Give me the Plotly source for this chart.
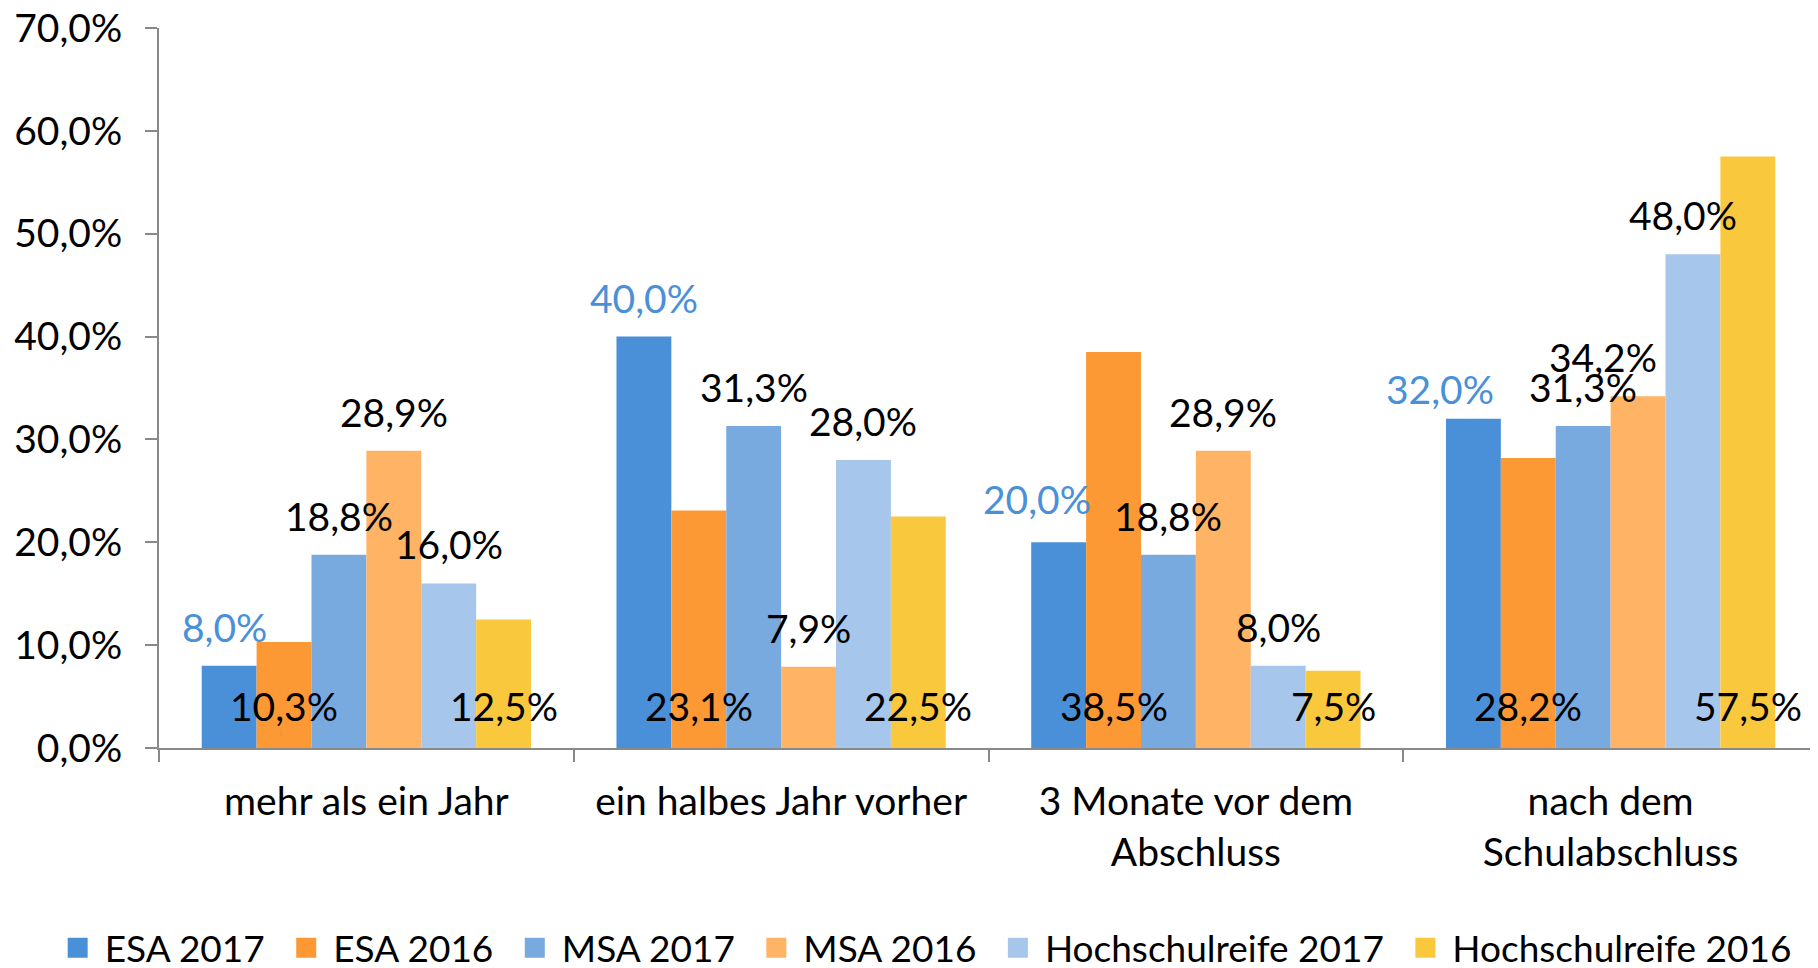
import plotly.graph_objects as go

# ---------------- data ----------------
categories = [
    "mehr als ein Jahr",
    "ein halbes Jahr vorher",
    "3 Monate vor dem<br>Abschluss",
    "nach dem<br>Schulabschluss",
]
series_names = ["ESA 2017", "ESA 2016", "MSA 2017", "MSA 2016",
                "Hochschulreife 2017", "Hochschulreife 2016"]
esa_2017 = [8.0, 40.0, 20.0, 32.0]
esa_2016 = [10.3, 23.1, 38.5, 28.2]
msa_2017 = [18.8, 31.3, 18.8, 31.3]
msa_2016 = [28.9, 7.9, 28.9, 34.2]
hsr_2017 = [16.0, 28.0, 8.0, 48.0]
hsr_2016 = [12.5, 22.5, 7.5, 57.5]
y_tick_values = [0, 10, 20, 30, 40, 50, 60, 70]

series_values = [esa_2017, esa_2016, msa_2017, msa_2016, hsr_2017, hsr_2016]

# ---------------- style ----------------
FONT = "Lato"
FS = 39
LEGEND_FS = 37
bar_colors = ["#4A90D9", "#FD9935", "#78AAE0", "#FEB365", "#A6C6EC", "#FAC83C"]
label_colors = ["#4A90D9", "#000000", "#000000", "#000000", "#000000", "#000000"]
label_place = ["above", "base", "above", "above", "above", "base"]
ABOVE_SHIFT = 39
BASE_SHIFT = 42
# manual label nudges (series index, category index) -> (dx px, dy px)
label_nudge = {
    (0, 0): (-5, 0),
    (0, 2): (-22, 4),
    (0, 3): (-33, -9),
    (3, 3): (-35, 0),
    (4, 3): (-10, 0),
}
BARGAP = 0.206
AXIS_GRAY = "#898989"


def fmt(v):
    return f"{v:.1f}%".replace(".", ",")


x_idx = list(range(len(categories)))
n = len(series_names)
bar_w = (1 - BARGAP) / n

fig = go.Figure()
for j, (name, vals) in enumerate(zip(series_names, series_values)):
    fig.add_trace(go.Bar(
        x=x_idx, y=vals, name=name, legendgroup=name, showlegend=False,
        marker=dict(color=bar_colors[j], line=dict(width=0)),
        hoverinfo="skip",
    ))
# legend keys: larger square swatches than plotly's default bar key
for j, name in enumerate(series_names):
    fig.add_trace(go.Scatter(
        x=[None], y=[None], mode="markers", name=name + "\u00a0",
        legendgroup=name, showlegend=True, hoverinfo="skip",
        marker=dict(symbol="square", size=16, color=bar_colors[j],
                    line=dict(color=bar_colors[j], width=4)),
    ))

annotations = []
for j, vals in enumerate(series_values):
    off = (j - (n - 1) / 2) * bar_w
    for i, v in enumerate(vals):
        dx, dy = label_nudge.get((j, i), (0, 0))
        if label_place[j] == "above":
            y, ys = v, ABOVE_SHIFT
        else:
            y, ys = 0, BASE_SHIFT
        annotations.append(dict(
            x=i + off, y=y, xref="x", yref="y", text=fmt(v), showarrow=False,
            yanchor="middle", xanchor="center", yshift=ys + dy, xshift=dx,
            font=dict(family=FONT, size=FS, color=label_colors[j]),
        ))

# the page body adds an 8px offset, so the figure is 8px smaller than the window
fig.update_layout(
    width=1810, height=960,
    paper_bgcolor="white", plot_bgcolor="white",
    barmode="group", bargap=BARGAP, bargroupgap=0,
    margin=dict(l=151, r=0, t=20, b=220, autoexpand=False),
    font=dict(family=FONT, size=FS, color="#000000"),
    annotations=annotations,
    showlegend=True,
    legend=dict(
        orientation="h", x=-0.0653, xanchor="left", y=-0.278, yanchor="middle",
        itemwidth=44,
        font=dict(family=FONT, size=LEGEND_FS, color="#000000"),
        bgcolor="rgba(0,0,0,0)", itemclick=False, itemdoubleclick=False,
    ),
)

fig.update_xaxes(
    range=[-0.5, len(categories) - 0.5],
    tickmode="array", tickvals=x_idx, ticktext=categories,
    ticks="", showgrid=False, zeroline=False,
    showline=True, linecolor=AXIS_GRAY, linewidth=2,
    ticklabelstandoff=18,
    minor=dict(tickmode="array",
               tickvals=[k - 0.5 for k in range(len(categories) + 1)],
               ticks="outside", ticklen=12, tickwidth=2, tickcolor=AXIS_GRAY,
               showgrid=False),
    tickfont=dict(family=FONT, size=FS, color="#000000"),
)
fig.update_yaxes(
    range=[0, 70],
    tickmode="array", tickvals=y_tick_values,
    ticktext=[fmt(v) for v in y_tick_values],
    ticks="outside", ticklen=12, tickwidth=2, tickcolor=AXIS_GRAY,
    showgrid=False, zeroline=False,
    showline=True, linecolor=AXIS_GRAY, linewidth=2,
    ticklabelstandoff=15, ticklabeloverflow="allow",
    tickfont=dict(family=FONT, size=FS, color="#000000"),
)

fig.write_html("out.html")
